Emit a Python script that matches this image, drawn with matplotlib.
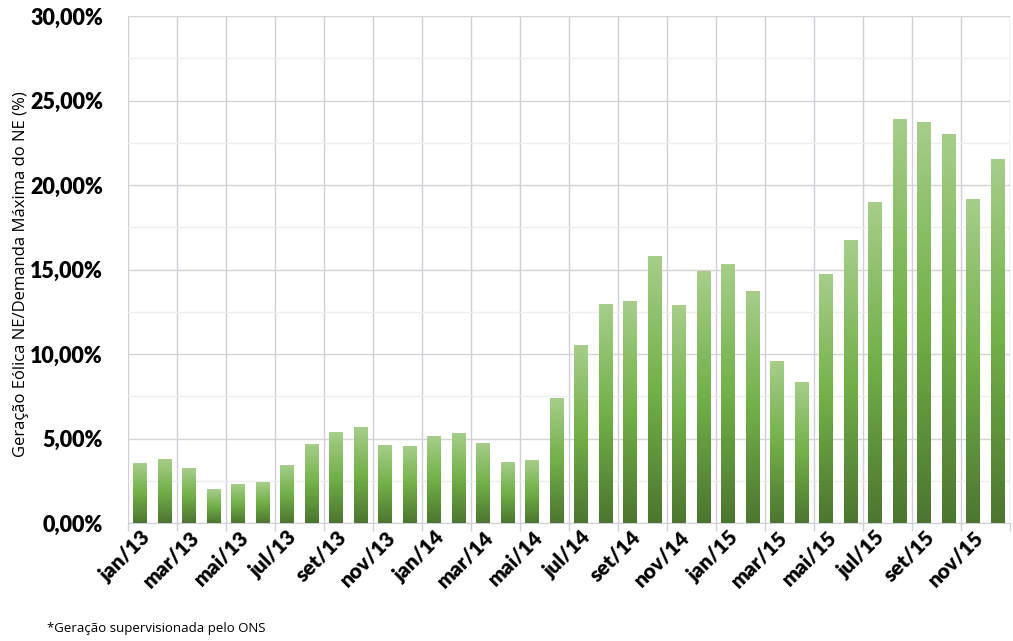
import numpy as np
import matplotlib
matplotlib.use("Agg")
import matplotlib.pyplot as plt
from matplotlib.colors import LinearSegmentedColormap
from matplotlib.ticker import FixedLocator, FuncFormatter

# ==========================================
# DATA
# ==========================================
months = ["jan", "fev", "mar", "abr", "mai", "jun",
          "jul", "ago", "set", "out", "nov", "dez"]
years = ["13", "14", "15"]
categories = [f"{m}/{y}" for y in years for m in months]

# Geração eólica NE / demanda máxima NE (%)
values_2013 = [3.50, 3.73, 3.25, 2.00, 2.30, 2.37, 3.43, 4.67, 5.33, 5.68, 4.56, 4.50]
values_2014 = [5.09, 5.27, 4.73, 3.60, 3.67, 7.34, 10.53, 12.90, 13.08, 15.74, 12.84, 14.90]
values_2015 = [15.30, 13.67, 9.53, 8.34, 14.73, 16.69, 18.99, 23.85, 23.67, 22.96, 19.17, 21.48]
values = values_2013 + values_2014 + values_2015

y_major = [0, 5, 10, 15, 20, 25, 30]
y_minor = [2.5, 7.5, 12.5, 17.5, 22.5, 27.5]

# ==========================================
# STYLE
# ==========================================
bar_width = 0.57
grad_cmap = LinearSegmentedColormap.from_list(
    "bar_grad", ["#4c7630", "#72b048", "#a6ce8a"])  # bottom -> top
tick_font = "Lato"

fig = plt.figure(figsize=(10.13, 6.41), dpi=100)
ax = fig.add_axes([0.1264, 0.184, 0.8706, 0.791])

x = np.arange(len(values))
bars = ax.bar(x, values, width=bar_width, color="none", edgecolor="none", zorder=3)

# gradient fill per bar (light at top, dark at bottom)
grad = np.linspace(0, 1, 256).reshape(-1, 1)
for rect in bars:
    x0 = rect.get_x()
    h = rect.get_height()
    ax.imshow(grad, cmap=grad_cmap, origin="lower", aspect="auto",
              extent=[x0, x0 + rect.get_width(), 0, h], zorder=3,
              interpolation="bilinear")

ax.set_xlim(-0.5, len(values) - 0.5)
ax.set_ylim(0, 30)

# y axis
ax.yaxis.set_major_locator(FixedLocator(y_major))
ax.yaxis.set_minor_locator(FixedLocator(y_minor))
ax.yaxis.set_major_formatter(FuncFormatter(lambda v, p: f"{v:.2f}%".replace(".", ",")))
ax.grid(axis="y", which="major", color="#d4d4d8", linewidth=1.0, zorder=0)
ax.grid(axis="y", which="minor", color="#eeeeee", linewidth=1.0, zorder=0)
ax.tick_params(axis="y", which="both", length=0, pad=18)

# x axis: grid/ticks on boundaries every 2 months, labels on bar centres
bounds = np.arange(-0.5, len(values), 2)
ax.xaxis.set_major_locator(FixedLocator(bounds))
ax.xaxis.set_major_formatter(FuncFormatter(lambda v, p: ""))
ax.xaxis.set_minor_locator(FixedLocator(x[::2]))
ax.xaxis.set_minor_formatter(FuncFormatter(lambda v, p: categories[int(round(v))]))
ax.grid(axis="x", which="major", color="#d0d0d8", linewidth=1.0, zorder=0)
ax.tick_params(axis="x", which="major", length=6, color="#d0d0d8", width=1.0)
ax.tick_params(axis="x", which="minor", length=0, pad=3)

for lab in ax.get_yticklabels():
    lab.set_fontfamily(tick_font)
    lab.set_fontweight("heavy")
    lab.set_fontsize(15.5)
for lab in ax.xaxis.get_minorticklabels():
    lab.set_fontfamily(tick_font)
    lab.set_fontweight("heavy")
    lab.set_fontsize(15)
    lab.set_rotation(45)
    lab.set_ha("right")
    lab.set_va("top")
    lab.set_rotation_mode("anchor")

for side in ["top", "right", "left"]:
    ax.spines[side].set_visible(False)
ax.spines["bottom"].set_color("#d0d0d8")

ax.set_ylabel("Geração Eólica NE/Demanda Máxima do NE (%)", fontsize=12,
              fontfamily="Open Sans", labelpad=9)
ax.yaxis.set_label_coords(-0.112, 0.49)

fig.text(0.046, 0.009, "*Geração supervisionada pelo ONS", fontsize=9.5,
         fontfamily="Open Sans", color="#000000", ha="left", va="bottom")

fig.savefig("out.png", dpi=100)
